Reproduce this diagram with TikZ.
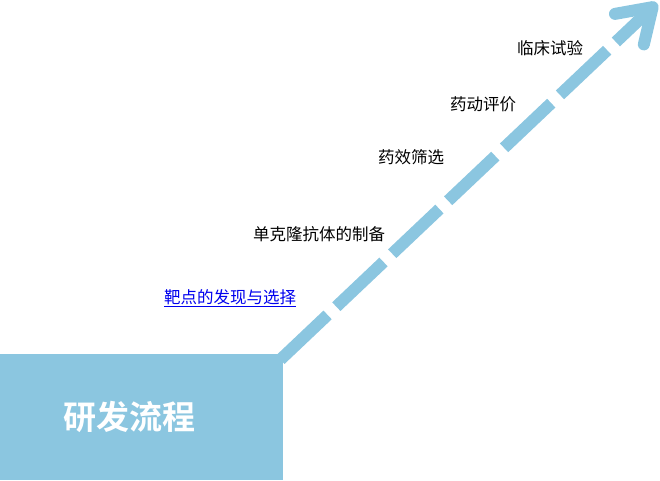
\documentclass[tikz,border=0pt]{standalone}
\usepackage{fontspec}
\setmainfont{Noto Sans CJK SC}[BoldFont={Noto Sans CJK SC Bold}]
\usetikzlibrary{arrows.meta}
\definecolor{flowblue}{RGB}{139,198,224}
\definecolor{linkblue}{RGB}{0,0,238}
\tikzset{
  stagebox/.style={fill=flowblue, draw=none, minimum width=283pt, minimum height=126pt, inner sep=0pt},
  titletext/.style={text=white, font=\fontsize{33}{36}\selectfont\bfseries},
  steptext/.style={font=\fontsize{16.5}{18}\selectfont, inner sep=0pt},
  flowarrow/.style={draw=flowblue, line width=12pt, dash pattern=on 65pt off 12pt,
    -{Straight Barb[length=32pt,width=42pt,round]}}
}
\begin{document}
\begin{tikzpicture}[x=1pt,y=-1pt]
  \useasboundingbox (0,0) rectangle (660,480);
  \node[stagebox, anchor=south west] (flow) at (0,480) {};
  \node[titletext] (title) at ([xshift=-12pt]flow.center) {研发流程};
  \coordinate (tip) at (657,3);
  \draw[flowarrow] ([shift={(-3pt,-6pt)}]flow.north east) -- (tip);
  % steps along the arrow
  \node[steptext, text=linkblue] (target) at (230,298) {\underline{靶点的发现与选择}};
  \node[steptext] (antibody) at (319,234) {单克隆抗体的制备};
  \node[steptext] (screen) at (411,157) {药效筛选};
  \node[steptext] (pk) at (483,104) {药动评价};
  \node[steptext] (trial) at (550,48) {临床试验};
\end{tikzpicture}
\end{document}
